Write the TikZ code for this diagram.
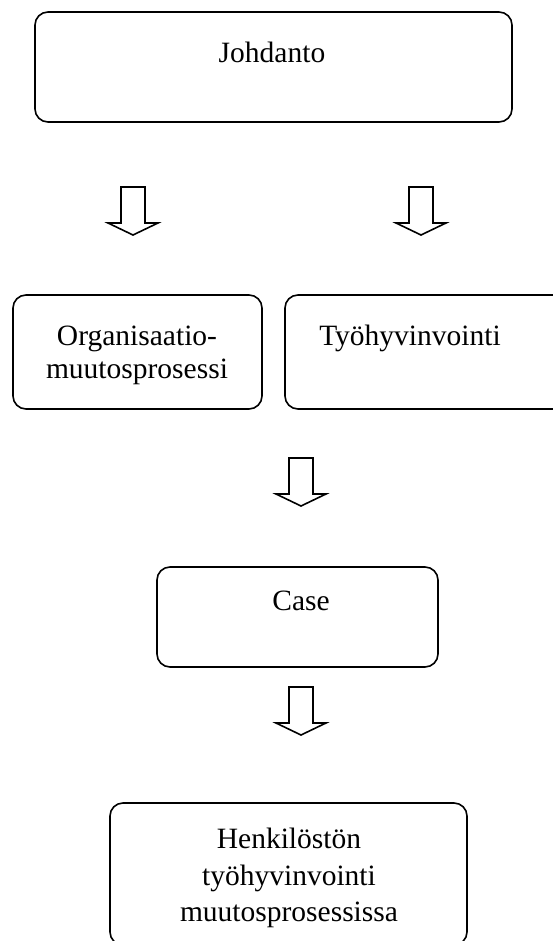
\documentclass[tikz,border=0pt]{standalone}
\usepackage{fontspec}
\setmainfont{Liberation Serif}
\begin{document}
\begin{tikzpicture}[x=1pt,y=-1pt,
  box/.style={draw, line width=1.6pt, rounded corners=13pt, inner sep=0pt},
  blockarrow/.style={draw, line width=1.6pt, line join=miter},
  lbl/.style={font=\fontsize{29.5}{35}\selectfont, anchor=base, inner sep=0pt, align=center}]
\useasboundingbox (0,0) rectangle (553,941);
\clip (0,0) rectangle (553,941);
% boxes
\node[box, minimum width=477pt, minimum height=110pt] (intro) at (273.5,67) {};
\node[box, minimum width=249pt, minimum height=114pt] (org) at (137.5,352) {};
\node[box, minimum width=290pt, minimum height=114pt] (tyo) at (430,352) {};
\node[box, minimum width=281pt, minimum height=100pt] (case) at (297.5,617) {};
\node[box, minimum width=357pt, minimum height=142pt] (henk) at (288.5,874) {};
% labels
\node[lbl] (tintro) at (272,63) {Johdanto};
\node[lbl] (torg1) at (137,345) {Organisaatio-};
\node[lbl] (torg2) at (137,378) {muutosprosessi};
\node[lbl] (ttyo) at (410,345) {Työhyvinvointi};
\node[lbl] (tcase) at (301,610) {Case};
\node[lbl] (th1) at (289,848) {Henkilöstön};
\node[lbl] (th2) at (289,885) {työhyvinvointi};
\node[lbl] (th3) at (289,921) {muutosprosessissa};
% block arrows
\foreach \cx/\ty/\nm in {133/187/a1, 421/187/a2, 301/458/a3, 301/687/a4}{
  \coordinate (\nm) at (\cx,\ty);
  \draw[blockarrow] (\nm) ++(-12,0) -- ++(24,0) -- ++(0,36) -- ++(13,0)
    -- ++(-25,12) -- ++(-25,-12) -- ++(13,0) -- cycle;
}
\end{tikzpicture}
\end{document}
